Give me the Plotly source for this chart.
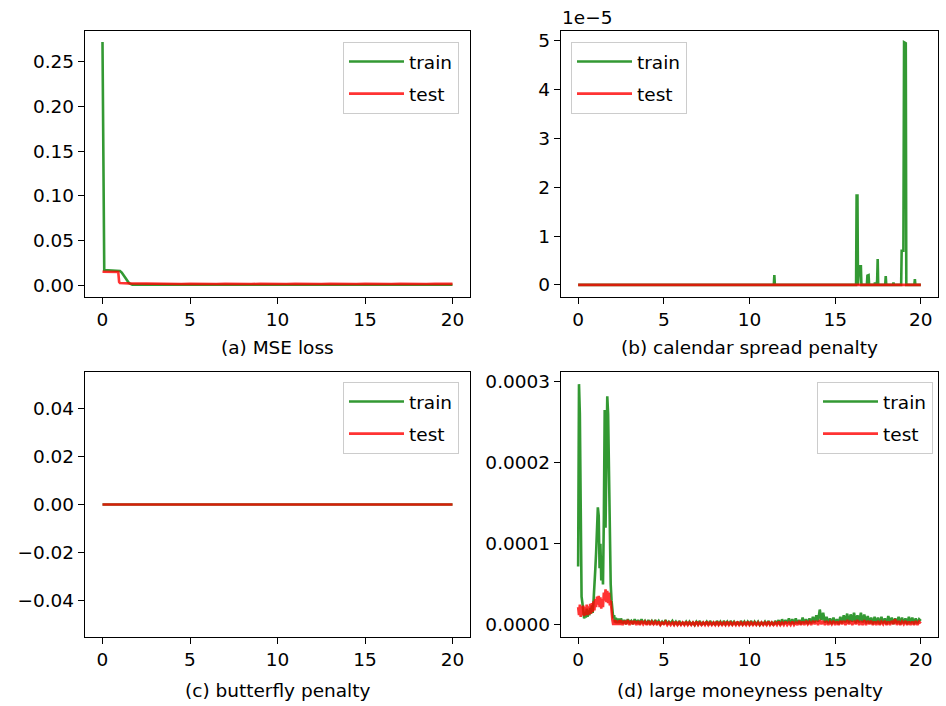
import plotly.graph_objects as go
import numpy as np

# ---------------- data ----------------
# (a) MSE loss
a_train_x = [0.0, 0.06, 0.1, 0.3, 0.5, 0.7, 0.9, 1.0, 1.1, 1.2, 1.3, 1.4, 1.5, 1.6, 1.7, 2.0,
             3.0, 4.0, 5.0, 6.0, 7.0, 8.0, 9.0, 10.0, 11.0, 12.0, 13.0, 14.0, 15.0, 16.0, 17.0, 18.0, 19.0, 20.0]
a_train = [0.272, 0.017, 0.0168, 0.0166, 0.0165, 0.0164, 0.0161, 0.0157, 0.014, 0.011, 0.0078, 0.0048,
           0.0026, 0.0012, 0.0005, 0.0004, 0.0004, 0.0004, 0.0003, 0.0003, 0.0003, 0.0003, 0.0003, 0.0003,
           0.0003, 0.0003, 0.0003, 0.0003, 0.0003, 0.0003, 0.0003, 0.0003, 0.0003, 0.0003]
a_test_x = [0.0, 0.3, 0.6, 0.9, 0.95, 1.0, 1.5, 2.0, 2.5, 3.0, 3.5, 4.0, 4.5, 5.0, 5.5, 6.0, 6.5, 7.0,
            7.5, 8.0, 8.5, 9.0, 9.5, 10.0, 10.5, 11.0, 11.5, 12.0, 12.5, 13.0, 13.5, 14.0, 14.5, 15.0,
            15.5, 16.0, 16.5, 17.0, 17.5, 18.0, 18.5, 19.0, 19.5, 20.0]
a_test = [0.0148, 0.0149, 0.0147, 0.0146, 0.0035, 0.0022, 0.0018, 0.0016, 0.0015, 0.0017, 0.0012,
          0.0016, 0.0012, 0.0015, 0.0011, 0.0015, 0.0011, 0.0014, 0.0011, 0.0015, 0.0011, 0.0014,
          0.0011, 0.0014, 0.0011, 0.0014, 0.0011, 0.0015, 0.0011, 0.0014, 0.0011, 0.0014, 0.0011,
          0.0015, 0.0011, 0.0014, 0.0011, 0.0014, 0.0011, 0.0015, 0.0011, 0.0014, 0.0011, 0.0013]

# (b) calendar spread penalty (values in units of 1e-5)
b_train_x = [0.0, 11.42, 11.45, 11.48, 16.22, 16.25, 16.3, 16.33, 16.4, 16.5, 16.53, 16.85, 16.88,
             16.95, 16.98, 17.3, 17.32, 17.34, 17.42, 17.45, 17.48, 17.51, 17.92, 17.95, 17.98,
             18.38, 18.4, 18.43, 18.85, 18.88, 18.98, 19.02, 19.12, 19.15, 19.62, 19.65, 19.68, 20.0]
b_train_e5 = [0.0, 0.0, 0.2, 0.0, 0.0, 1.83, 1.83, 0.0, 0.38, 0.38, 0.0, 0.0, 0.19,
              0.2, 0.0, 0.0, 0.05, 0.0, 0.0, 0.1, 0.53, 0.0, 0.0, 0.18, 0.0,
              0.0, 0.05, 0.0, 0.0, 0.7, 0.7, 4.97, 4.95, 0.0, 0.0, 0.12, 0.0, 0.0]
b_test_x = [0.0, 5.0, 10.0, 15.0, 20.0]
b_test_e5 = [0.0, 0.0, 0.0, 0.0, 0.0]
b_ticks = [0, 1, 2, 3, 4, 5]

# (c) butterfly penalty
c_x = [0.0, 5.0, 10.0, 15.0, 20.0]
c_train = [0.0, 0.0, 0.0, 0.0, 0.0]
c_test = [0.0, 0.0, 0.0, 0.0, 0.0]

# (d) large moneyness penalty (values in units of 1e-4)
d_x = [0.0, 0.05, 0.1, 0.15, 0.2, 0.25, 0.3, 0.35, 0.4, 0.45,
       0.5, 0.55, 0.6, 0.65, 0.7, 0.75, 0.8, 0.85, 0.9, 0.95,
       1.0, 1.05, 1.1, 1.15, 1.2, 1.25, 1.3, 1.35, 1.4, 1.45,
       1.5, 1.55, 1.6, 1.65, 1.7, 1.75, 1.8, 1.85, 1.9, 1.95,
       2.0, 2.05, 2.1, 2.15, 2.2, 2.25, 2.3, 2.35, 2.4, 2.45,
       2.5, 2.6, 2.7, 2.8, 2.9, 3.0, 3.1, 3.2, 3.3, 3.4,
       3.5, 3.6, 3.7, 3.8, 3.9, 4.0, 4.1, 4.2, 4.3, 4.4,
       4.5, 4.6, 4.7, 4.8, 4.9, 5.0, 5.1, 5.2, 5.3, 5.4,
       5.5, 5.6, 5.7, 5.8, 5.9, 6.0, 6.1, 6.2, 6.3, 6.4,
       6.5, 6.6, 6.7, 6.8, 6.9, 7.0, 7.1, 7.2, 7.3, 7.4,
       7.5, 7.6, 7.7, 7.8, 7.9, 8.0, 8.1, 8.2, 8.3, 8.4,
       8.5, 8.6, 8.7, 8.8, 8.9, 9.0, 9.1, 9.2, 9.3, 9.4,
       9.5, 9.6, 9.7, 9.8, 9.9, 10.0, 10.1, 10.2, 10.3, 10.4,
       10.5, 10.6, 10.7, 10.8, 10.9, 11.0, 11.1, 11.2, 11.3, 11.4,
       11.5, 11.6, 11.7, 11.8, 11.9, 12.0, 12.1, 12.2, 12.3, 12.4,
       12.5, 12.6, 12.7, 12.8, 12.9, 13.0, 13.1, 13.2, 13.3, 13.4,
       13.5, 13.6, 13.7, 13.8, 13.9, 14.0, 14.1, 14.2, 14.3, 14.4,
       14.5, 14.6, 14.7, 14.8, 14.9, 15.0, 15.1, 15.2, 15.3, 15.4,
       15.5, 15.6, 15.7, 15.8, 15.9, 16.0, 16.1, 16.2, 16.3, 16.4,
       16.5, 16.6, 16.7, 16.8, 16.9, 17.0, 17.1, 17.2, 17.3, 17.4,
       17.5, 17.6, 17.7, 17.8, 17.9, 18.0, 18.1, 18.2, 18.3, 18.4,
       18.5, 18.6, 18.7, 18.8, 18.9, 19.0, 19.1, 19.2, 19.3, 19.4,
       19.5, 19.6, 19.7, 19.8, 19.9, 20.0]
d_train_e4 = [0.72, 2.97, 2.6, 0.6, 0.35, 0.27, 0.15, 0.08, 0.16, 0.09,
              0.2, 0.1, 0.18, 0.12, 0.21, 0.14, 0.24, 0.15, 0.3, 0.45,
              0.68, 0.9, 1.1, 1.45, 1.35, 0.7, 1.0, 0.55, 0.85, 0.5,
              1.3, 2.65, 1.2, 2.4, 2.82, 2.6, 1.7, 0.9, 0.5, 0.3,
              0.19, 0.08, 0.12, 0.03, 0.09, 0.02, 0.08, 0.02, 0.08, 0.02,
              0.08, 0.02, 0.06, 0.01, 0.07, 0.03, 0.05, 0.01, 0.07, 0.02,
              0.06, 0.01, 0.07, 0.02, 0.05, 0.01, 0.06, 0.02, 0.05, 0.01,
              0.06, 0.02, 0.05, 0.01, 0.04, 0.01, 0.06, 0.01, 0.04, 0.02,
              0.05, 0.01, 0.04, 0.0, 0.05, 0.01, 0.03, 0.01, 0.04, 0.0,
              0.04, 0.01, 0.03, 0.0, 0.04, 0.01, 0.05, 0.0, 0.03, 0.01,
              0.04, 0.0, 0.05, 0.01, 0.03, 0.0, 0.05, 0.01, 0.04, 0.0,
              0.05, 0.01, 0.04, 0.0, 0.05, 0.01, 0.04, 0.01, 0.03, 0.0,
              0.05, 0.01, 0.04, 0.0, 0.04, 0.01, 0.05, 0.0, 0.04, 0.01,
              0.04, 0.0, 0.03, 0.01, 0.04, 0.0, 0.05, 0.01, 0.03, 0.0,
              0.05, 0.01, 0.06, 0.0, 0.07, 0.01, 0.06, 0.02, 0.08, 0.01,
              0.07, 0.01, 0.08, 0.02, 0.06, 0.01, 0.09, 0.02, 0.07, 0.01,
              0.08, 0.02, 0.1, 0.03, 0.12, 0.04, 0.19, 0.06, 0.15, 0.03,
              0.1, 0.02, 0.08, 0.01, 0.09, 0.02, 0.07, 0.01, 0.1, 0.02,
              0.12, 0.03, 0.14, 0.02, 0.13, 0.04, 0.15, 0.02, 0.12, 0.03,
              0.15, 0.03, 0.13, 0.02, 0.11, 0.02, 0.09, 0.01, 0.1, 0.02,
              0.09, 0.01, 0.1, 0.02, 0.08, 0.01, 0.11, 0.02, 0.09, 0.01,
              0.08, 0.02, 0.1, 0.01, 0.09, 0.02, 0.08, 0.01, 0.1, 0.02,
              0.09, 0.01, 0.08, 0.02, 0.07, 0.05]
d_test_e4 = [0.22, 0.12, 0.25, 0.1, 0.23, 0.12, 0.24, 0.11, 0.22, 0.12,
             0.25, 0.12, 0.23, 0.13, 0.26, 0.14, 0.27, 0.16, 0.29, 0.18,
             0.32, 0.22, 0.35, 0.25, 0.36, 0.22, 0.34, 0.2, 0.32, 0.22,
             0.4, 0.3, 0.44, 0.28, 0.42, 0.27, 0.4, 0.24, 0.3, 0.1,
             0.06, 0.0, 0.06, 0.0, 0.06, 0.0, 0.05, 0.0, 0.06, 0.0,
             0.06, 0.0, 0.05, 0.01, 0.06, 0.0, 0.05, 0.01, 0.05, 0.0,
             0.05, 0.0, 0.05, 0.01, 0.04, 0.0, 0.05, 0.0, 0.04, 0.01,
             0.04, 0.0, 0.04, 0.0, 0.03, 0.01, 0.04, 0.0, 0.03, 0.0,
             0.03, 0.0, 0.04, 0.0, 0.03, 0.0, 0.03, 0.0, 0.04, 0.0,
             0.03, 0.0, 0.03, 0.0, 0.04, 0.0, 0.03, 0.0, 0.03, 0.0,
             0.04, 0.0, 0.03, 0.0, 0.03, 0.0, 0.04, 0.0, 0.03, 0.0,
             0.03, 0.0, 0.04, 0.0, 0.03, 0.0, 0.03, 0.0, 0.04, 0.0,
             0.03, 0.0, 0.03, 0.0, 0.04, 0.0, 0.03, 0.0, 0.03, 0.0,
             0.03, 0.0, 0.03, 0.0, 0.03, 0.0, 0.04, 0.0, 0.03, 0.0,
             0.03, 0.0, 0.04, 0.0, 0.03, 0.0, 0.04, 0.0, 0.03, 0.0,
             0.04, 0.0, 0.03, 0.0, 0.05, 0.0, 0.04, 0.0, 0.05, 0.01,
             0.04, 0.0, 0.05, 0.01, 0.05, 0.0, 0.06, 0.01, 0.05, 0.0,
             0.05, 0.0, 0.04, 0.01, 0.05, 0.0, 0.04, 0.0, 0.05, 0.01,
             0.05, 0.0, 0.06, 0.01, 0.05, 0.0, 0.05, 0.01, 0.06, 0.0,
             0.05, 0.0, 0.06, 0.0, 0.05, 0.01, 0.05, 0.0, 0.04, 0.0,
             0.05, 0.0, 0.04, 0.01, 0.05, 0.0, 0.04, 0.0, 0.05, 0.01,
             0.07, 0.0, 0.05, 0.0, 0.04, 0.01, 0.05, 0.0, 0.04, 0.0,
             0.04, 0.0, 0.05, 0.0, 0.04, 0.02]

x_ticks = [0, 5, 10, 15, 20]
titles = ["(a) MSE loss", "(b) calendar spread penalty", "(c) butterfly penalty", "(d) large moneyness penalty"]
series_names = ["train", "test"]

# ---------------- styling ----------------
W, H = 946, 706
FONT = "DejaVu Sans"
FS = 18.5
GREEN = "rgba(0,128,0,0.8)"
RED = "rgba(255,0,0,0.8)"
LW = 2.6


def px_x(p):
    return p / W


def px_y(p):
    return 1 - p / H


dom_left = [px_x(85), px_x(470)]
dom_right = [px_x(561), px_x(938)]
dom_top = [px_y(297), px_y(31)]
dom_bot = [px_y(637), px_y(372)]

fig = go.Figure()

panels = [
    dict(xa="x", ya="y", legend="legend",
         tr=(a_train_x, a_train), te=(a_test_x, a_test)),
    dict(xa="x2", ya="y2", legend="legend2",
         tr=(b_train_x, list(np.array(b_train_e5) * 1e-5)), te=(b_test_x, list(np.array(b_test_e5) * 1e-5))),
    dict(xa="x3", ya="y3", legend="legend3",
         tr=(c_x, c_train), te=(c_x, c_test)),
    dict(xa="x4", ya="y4", legend="legend4",
         tr=(d_x, list(np.array(d_train_e4) * 1e-4)), te=(d_x, list(np.array(d_test_e4) * 1e-4))),
]

for i, p in enumerate(panels):
    fig.add_trace(go.Scatter(x=p["tr"][0], y=p["tr"][1], mode="lines", name=series_names[0],
                             line=dict(color=GREEN, width=LW), xaxis=p["xa"], yaxis=p["ya"],
                             legend=p["legend"], legendgroup=f"g{i}a", showlegend=True))
    fig.add_trace(go.Scatter(x=p["te"][0], y=p["te"][1], mode="lines", name=series_names[1],
                             line=dict(color=RED, width=LW), xaxis=p["xa"], yaxis=p["ya"],
                             legend=p["legend"], legendgroup=f"g{i}b", showlegend=True))

axis_common = dict(showline=True, linecolor="black", linewidth=1.4, mirror=True, ticks="outside",
                   ticklen=6, tickwidth=1.3, tickcolor="black", showgrid=False, zeroline=False,
                   tickfont=dict(family=FONT, size=FS, color="black"))

xax = dict(range=[-1, 21], tickvals=x_ticks, **axis_common)

fig.update_layout(
    width=W, height=H, margin=dict(l=0, r=0, t=0, b=0),
    paper_bgcolor="white", plot_bgcolor="white",
    font=dict(family=FONT, size=FS, color="black"),
    xaxis=dict(domain=dom_left, anchor="y", **xax),
    yaxis=dict(domain=dom_top, anchor="x", range=[-0.0134, 0.2844],
               tickvals=[0, 0.05, 0.10, 0.15, 0.20, 0.25], tickformat=".2f", **axis_common),
    xaxis2=dict(domain=dom_right, anchor="y2", **xax),
    yaxis2=dict(domain=dom_top, anchor="x2", range=[-0.248e-5, 5.2e-5],
                tickvals=[v * 1e-5 for v in b_ticks], ticktext=[str(v) for v in b_ticks], **axis_common),
    xaxis3=dict(domain=dom_left, anchor="y3", **xax),
    yaxis3=dict(domain=dom_bot, anchor="x3", range=[-0.055, 0.055],
                tickvals=[-0.04, -0.02, 0.0, 0.02, 0.04], tickformat=".2f", **axis_common),
    xaxis4=dict(domain=dom_right, anchor="y4", **xax),
    yaxis4=dict(domain=dom_bot, anchor="x4", range=[-0.1485e-4, 3.12e-4],
                tickvals=[0, 1e-4, 2e-4, 3e-4], tickformat=".4f", **axis_common),
)

leg_common = dict(bgcolor="rgba(255,255,255,0.8)", bordercolor="#cccccc", borderwidth=1,
                  font=dict(family=FONT, size=FS, color="black"), tracegroupgap=5,
                  itemwidth=55, traceorder="grouped")
fig.update_layout(
    legend=dict(x=px_x(459), y=px_y(42), xanchor="right", yanchor="top", **leg_common),
    legend2=dict(x=px_x(571), y=px_y(42), xanchor="left", yanchor="top", **leg_common),
    legend3=dict(x=px_x(459), y=px_y(382), xanchor="right", yanchor="top", **leg_common),
    legend4=dict(x=px_x(933), y=px_y(382), xanchor="right", yanchor="top", **leg_common),
)

title_pos = [((85 + 470) / 2, 347), ((561 + 938) / 2, 347), ((85 + 470) / 2, 690), ((561 + 938) / 2, 690)]
for t, (cx, cy) in zip(titles, title_pos):
    fig.add_annotation(text=t, x=px_x(cx), y=px_y(cy), xref="paper", yref="paper",
                       xanchor="center", yanchor="middle", showarrow=False,
                       font=dict(family=FONT, size=FS, color="black"))

fig.add_annotation(text="1e\u22125", x=px_x(560), y=px_y(17), xref="paper", yref="paper",
                   xanchor="left", yanchor="middle", showarrow=False,
                   font=dict(family=FONT, size=FS, color="black"))

fig.write_html("out.html", config={"displayModeBar": False},
               post_script="document.body.style.margin='0';document.body.style.overflow='hidden';")
